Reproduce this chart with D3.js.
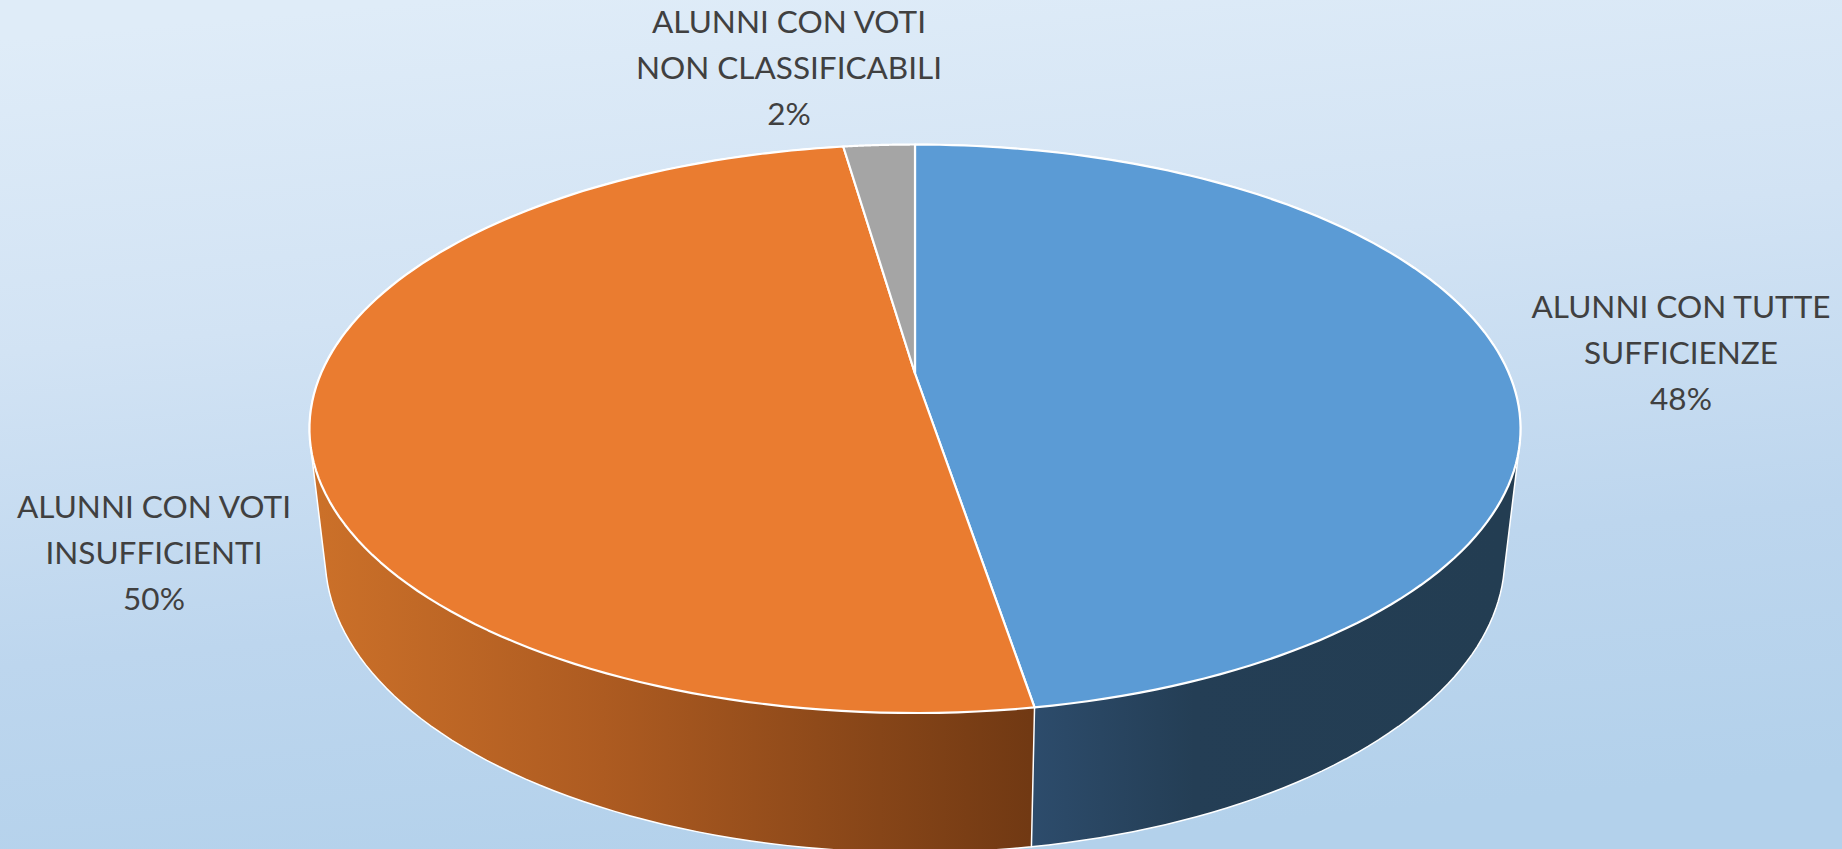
<!DOCTYPE html>
<html>
<head>
<meta charset="utf-8">
<script src="https://cdn.jsdelivr.net/npm/d3@7"></script>
<style>
html,body{margin:0;padding:0;overflow:hidden;background:#fff}
svg{display:block}
text{font-family:Lato,Carlito,"Open Sans",sans-serif;fill:#404040}
</style>
</head>
<body>
<svg id="c" width="1842" height="849"></svg>
<script>
// DATA
const categoryLines = [
  ["ALUNNI CON TUTTE", "SUFFICIENZE"],
  ["ALUNNI CON VOTI", "INSUFFICIENTI"],
  ["ALUNNI CON VOTI", "NON CLASSIFICABILI"]
];
const percentLabels = ["48%", "50%", "2%"];
const values = [47.4, 50.3, 2.3];
const topColors = ["#5B9BD5", "#EA7C30", "#A5A5A5"];

// LAYOUT
const W = 1842, H = 849;
const labelX = [1681, 154, 789];
const labelY = [318, 518, 33];
const lineGap = 45.8, fontSize = 31.5;
const cx = 915, apexY = 373.5, A = 594, B = 273.5, K = -0.1944;
const baseScaleX = 0.974, baseScaleY = 1.039, topMidY = 428.5, baseMidY = 557;

const svg = d3.select("#c");
const defs = svg.append("defs");

const bg = defs.append("linearGradient").attr("id","bg")
  .attr("gradientUnits","userSpaceOnUse")
  .attr("x1",880).attr("y1",-40).attr("x2",960).attr("y2",849);
[[0,"#dfecf8"],[0.35,"#d2e3f4"],[0.7,"#bdd6ee"],[1,"#b3d1eb"]].forEach(s=>
  bg.append("stop").attr("offset",s[0]).attr("stop-color",s[1]));

const gBlue = defs.append("linearGradient").attr("id","sideBlue")
  .attr("gradientUnits","userSpaceOnUse").attr("x1",1030).attr("y1",0).attr("x2",1500).attr("y2",0);
[[0,"#2d4c6c"],[0.35,"#243e55"],[1,"#233d52"]].forEach(s=>
  gBlue.append("stop").attr("offset",s[0]).attr("stop-color",s[1]));
const gOrange = defs.append("linearGradient").attr("id","sideOrange")
  .attr("gradientUnits","userSpaceOnUse").attr("x1",320).attr("y1",0).attr("x2",1030).attr("y2",0);
[[0,"#cb7029"],[0.4,"#ad5b21"],[1,"#713913"]].forEach(s=>
  gOrange.append("stop").attr("offset",s[0]).attr("stop-color",s[1]));
const sideFills = ["url(#sideBlue)","url(#sideOrange)"];

svg.append("rect").attr("width",W).attr("height",H).attr("fill","url(#bg)");

const arcs = d3.pie().sort(null).value(d=>d)(values);

// perspective projection of the pie's circle
function topPt(t){
  const u = Math.sin(t), v = -Math.cos(t), d = 1 + K*v;
  return [cx + A*u/d, apexY + B*v/d];
}
function basePt(t){
  const p = topPt(t);
  return [cx + baseScaleX*(p[0]-cx), baseMidY + baseScaleY*(p[1]-topMidY)];
}
const samples = (a,b)=>d3.range(0,121).map(i=>a+(b-a)*i/120);
const line = d3.line();

// side walls (the hull of both rims; the top face hides its upper part)
arcs.slice(0,2).forEach((a,i)=>{
  const ts = samples(a.startAngle,a.endAngle);
  const hull = d3.polygonHull(ts.map(topPt).concat(ts.map(basePt)));
  svg.append("path").attr("d",line(hull)+"Z")
    .attr("fill",sideFills[i]).attr("stroke","#fff").attr("stroke-width",1.5)
    .attr("stroke-linejoin","round");
});

// top faces
arcs.forEach((a,i)=>{
  const pts = [[cx,apexY]].concat(samples(a.startAngle,a.endAngle).map(topPt));
  svg.append("path").attr("d",line(pts)+"Z")
    .attr("fill",topColors[i]).attr("stroke","#fff").attr("stroke-width",2.2)
    .attr("stroke-linejoin","round");
});

// labels
categoryLines.forEach((ls,i)=>{
  const t = svg.append("text").attr("text-anchor","middle").attr("font-size",fontSize);
  ls.concat([percentLabels[i]]).forEach((s,j)=>
    t.append("tspan").attr("x",labelX[i]).attr("y",labelY[i]+j*lineGap).text(s));
});
</script>
</body>
</html>
